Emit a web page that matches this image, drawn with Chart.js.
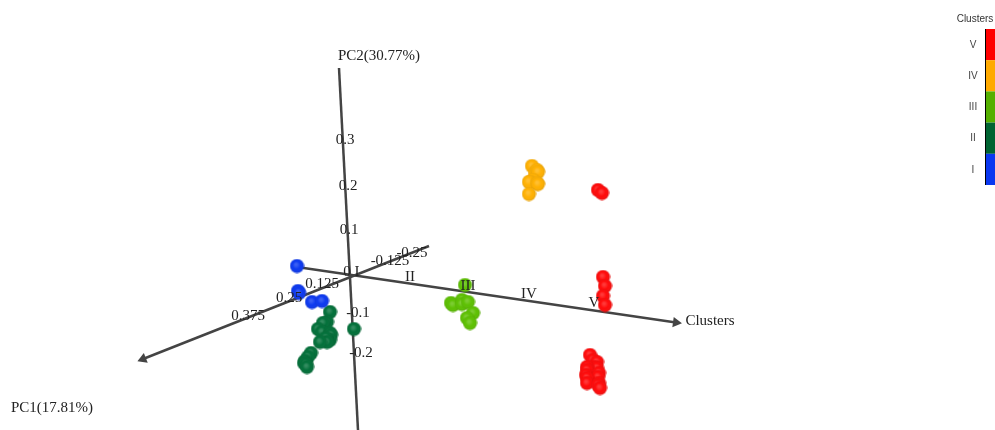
<!DOCTYPE html>
<html>
<head>
<meta charset="utf-8">
<style>
  html, body { margin: 0; padding: 0; background: #fff; }
  #wrap { width: 995px; height: 430px; }
</style>
<script src="https://cdn.jsdelivr.net/npm/chart.js@4"></script>
</head>
<body>
<div id="wrap"><canvas id="myChart" width="995" height="430"></canvas></div>
<script>
const clusterI = [[-0.110, 0.022], [-0.108, -0.028], [-0.106, -0.032], [-0.080, -0.050], [-0.060, -0.048]];
const clusterII = [[-0.044, -0.070], [-0.050, -0.090], [-0.058, -0.092], [-0.068, -0.104], [-0.060, -0.110],
    [-0.044, -0.112], [-0.042, -0.116], [-0.044, -0.126], [-0.052, -0.122], [-0.050, -0.130], [-0.064, -0.130],
    [-0.082, -0.152], [-0.088, -0.160], [-0.094, -0.168], [-0.096, -0.172], [-0.092, -0.174],
    [-0.090, -0.180], [0.004, -0.104]];
const clusterIII = [[0.226, -0.016], [0.198, -0.052], [0.202, -0.056], [0.220, -0.046], [0.220, -0.054],
    [0.232, -0.050], [0.242, -0.072], [0.230, -0.082], [0.236, -0.092]];
const clusterIV = [[0.360, 0.222], [0.366, 0.208], [0.370, 0.214], [0.372, 0.210], [0.362, 0.194], [0.356, 0.190],
    [0.354, 0.190], [0.370, 0.188], [0.372, 0.186], [0.354, 0.166]];
const clusterV = [[0.492, 0.174], [0.500, 0.168], [0.502, 0.000], [0.506, -0.018], [0.502, -0.038], [0.506, -0.056],
    [0.476, -0.156], [0.482, -0.166], [0.490, -0.170], [0.486, -0.180], [0.490, -0.182], [0.470, -0.180],
    [0.470, -0.186], [0.468, -0.196], [0.494, -0.192], [0.492, -0.200], [0.470, -0.202],
    [0.470, -0.212], [0.494, -0.212], [0.492, -0.216], [0.496, -0.222]];

const pc2Axis = [[-0.026, 0.418], [0.012, -0.306]];
const clusterAxis = [[-0.110, 0.020], [0.648, -0.091]];
const pc1Axis = [[0.154, 0.062], [-0.418, -0.164]];

const tickLabels = [['0.3', -0.014, 0.274], ['0.2', -0.008, 0.182], ['0.1', -0.006, 0.094], ['0', -0.010, 0.010],
    ['I', 0.010, 0.010], ['-0.1', 0.012, -0.072], ['-0.2', 0.018, -0.152], ['0.125', -0.060, -0.014],
    ['0.25', -0.126, -0.042], ['0.375', -0.208, -0.078], ['-0.125', 0.076, 0.032], ['-0.25', 0.120, 0.048],
    ['II', 0.116, 0.000], ['III', 0.232, -0.018], ['IV', 0.354, -0.034], ['V', 0.484, -0.052]];
const axisTitles = [['PC2(30.77%)', 0.054, 0.442], ['Clusters', 0.716, -0.088], ['PC1(17.81%)', -0.600, -0.262]];

const legendTitle = 'Clusters';
const legendNames = ['V', 'IV', 'III', 'II', 'I'];
const legendColors = ['#ff0000', '#ffaa00', '#55b000', '#006432', '#0a37f0'];

// shaded ball used as the point image
function ball(color) {
    const c = document.createElement('canvas');
    c.width = c.height = 15;
    const g = c.getContext('2d');
    g.fillStyle = color;
    g.beginPath();
    g.arc(7.5, 7.5, 7, 0, Math.PI * 2);
    g.fill();
    const grad = g.createRadialGradient(6.5, 6, 1, 7.5, 7.5, 7.5);
    grad.addColorStop(0, 'rgba(255,255,255,0.2)');
    grad.addColorStop(0.5, 'rgba(255,255,255,0)');
    grad.addColorStop(1, 'rgba(0,0,0,0.15)');
    g.fillStyle = grad;
    g.fill();
    return c;
}

function toPoints(list) {
    return list.map(p => ({ x: p[0], y: p[1] }));
}

function clusterSet(name, list, color) {
    return {
        label: name,
        data: toPoints(list),
        showLine: false,
        pointStyle: ball(color),
        pointRadius: 7
    };
}

// axis line, with an arrow head on its far end when a rotation is given
function axisSet(name, list, arrowAngle) {
    return {
        label: name,
        data: toPoints(list),
        showLine: true,
        borderColor: '#444444',
        backgroundColor: '#444444',
        borderWidth: 2.5,
        pointStyle: 'triangle',
        pointRotation: arrowAngle,
        pointBackgroundColor: '#444444',
        pointBorderWidth: 0,
        pointRadius: ctx => (ctx.dataIndex === 1 && arrowAngle !== null ? 6 : 0)
    };
}

const textLayer = {
    id: 'textLayer',
    afterDatasetsDraw(chart) {
        const { ctx, scales } = chart;
        ctx.save();
        ctx.fillStyle = '#222222';
        ctx.textAlign = 'center';
        ctx.textBaseline = 'middle';
        ctx.font = '15px "Liberation Serif"';
        tickLabels.concat(axisTitles).forEach(t => {
            ctx.fillText(t[0], scales.x.getPixelForValue(t[1]), scales.y.getPixelForValue(t[2]));
        });

        // colour bar legend, top right
        ctx.font = '10px "Liberation Sans"';
        ctx.fillStyle = '#333333';
        ctx.fillText(legendTitle, 975, 19);
        legendNames.forEach((name, i) => {
            const top = 29 + i * 31.2;
            ctx.fillStyle = legendColors[i];
            ctx.fillRect(985, top, 10, 31.2);
            ctx.fillStyle = '#444444';
            ctx.fillText(name, 973, top + 16);
        });
        ctx.fillStyle = '#000000';
        ctx.fillRect(985, 29, 1, 156);
        ctx.restore();
    }
};

const ctx = document.getElementById('myChart').getContext('2d');
let myChart = new Chart(ctx, {
    type: 'scatter',
    data: {
        datasets: [
            clusterSet('I', clusterI, '#0a37f0'),
            clusterSet('II', clusterII, '#006f38'),
            clusterSet('III', clusterIII, '#5cc000'),
            clusterSet('IV', clusterIV, '#ffb000'),
            clusterSet('V', clusterV, '#ff0808'),
            axisSet('PC2', pc2Axis, null),
            axisSet('Clusters', clusterAxis, 98),
            axisSet('PC1', pc1Axis, 248)
        ]
    },
    options: {
        responsive: false,
        animation: false,
        layout: { padding: 0, autoPadding: false },
        plugins: {
            legend: { display: false },
            tooltip: { enabled: false }
        },
        scales: {
            x: { type: 'linear', min: -0.704, max: 1.286, display: false },
            y: { type: 'linear', min: -0.306, max: 0.554, display: false }
        }
    },
    plugins: [textLayer]
});
</script>
</body>
</html>
